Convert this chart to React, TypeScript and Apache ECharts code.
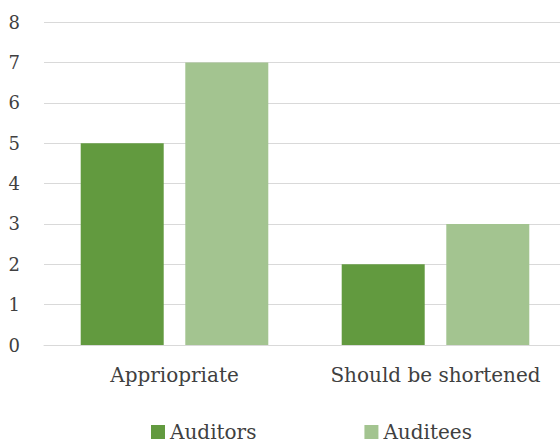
import React, { useEffect, useRef } from "react";
import * as echarts from "echarts";

const categories = ["Appriopriate", "Should be shortened"];
const seriesNames = ["Auditors", "Auditees"];
const auditors = [5, 2];
const auditees = [7, 3];
const colors = ["#629a3f", "#a3c490"];

export default function App() {
  const ref = useRef<HTMLDivElement>(null);
  useEffect(() => {
    document.body.style.margin = "0";
    const chart = echarts.init(ref.current!, undefined, { renderer: "svg" });
    const font = "DejaVu Serif";
    chart.setOption({
      animation: false,
      grid: { left: 44, right: 0, top: 22, bottom: 98, containLabel: false },
      legend: {
        left: 146,
        top: 417,
        itemWidth: 14,
        itemHeight: 14,
        itemGap: 108,
        icon: "rect",
        textStyle: { fontFamily: font, fontSize: 20, color: "#404040" },
        data: seriesNames,
      },
      xAxis: {
        type: "category",
        data: categories,
        axisLine: { show: true, lineStyle: { color: "#d9d9d9", width: 1 } },
        axisTick: { show: false },
        axisLabel: {
          fontFamily: font,
          fontSize: 20,
          color: "#404040",
          margin: 20,
          interval: 0,
          hideOverlap: false,
        },
      },
      yAxis: {
        type: "value",
        min: 0,
        max: 8,
        interval: 1,
        axisLine: { show: false },
        axisTick: { show: false },
        splitLine: { lineStyle: { color: "#d9d9d9", width: 1 } },
        axisLabel: { fontFamily: font, fontSize: 18, color: "#404040", margin: 24 },
      },
      series: [
        {
          name: seriesNames[0],
          type: "bar",
          data: auditors,
          barWidth: 83,
          barGap: "26%",
          itemStyle: { color: colors[0] },
        },
        {
          name: seriesNames[1],
          type: "bar",
          data: auditees,
          barWidth: 83,
          itemStyle: { color: colors[1] },
        },
      ],
    });
    return () => chart.dispose();
  }, []);
  return (
    <div style={{ width: 560, height: 443, overflow: "hidden" }}>
      <div ref={ref} style={{ width: 566, height: 443 }} />
    </div>
  );
}
